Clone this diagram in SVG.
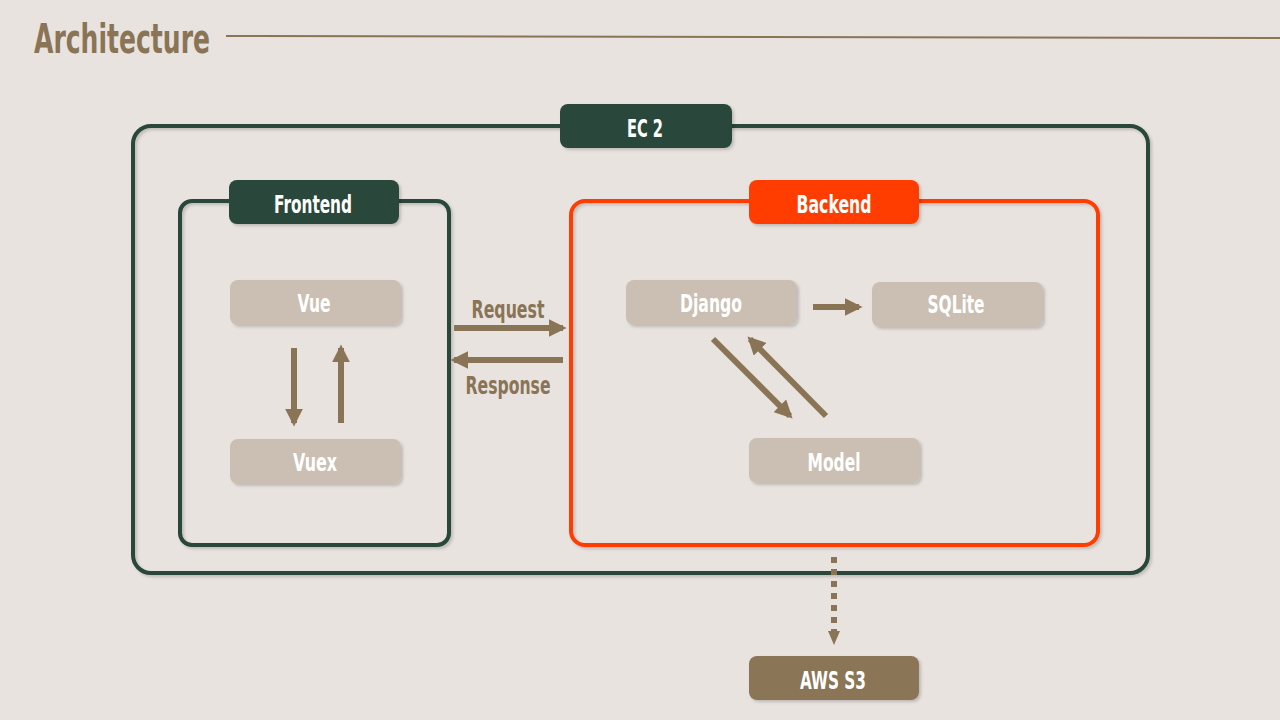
<svg xmlns="http://www.w3.org/2000/svg" width="1280" height="720" viewBox="0 0 1280 720">
<defs>
<filter id="sh" x="-10%" y="-10%" width="130%" height="140%">
<feDropShadow dx="2" dy="2" stdDeviation="1.5" flood-color="#000" flood-opacity="0.18"/>
</filter>
<marker id="ah" viewBox="0 0 10 10" refX="8" refY="5" markerWidth="3" markerHeight="3" orient="auto" markerUnits="strokeWidth">
<path d="M0,0 L10,5 L0,10 z" fill="#8a7456"/>
</marker>
<marker id="ah2" viewBox="0 0 10 10" refX="8" refY="5" markerWidth="2.2" markerHeight="2.2" orient="auto" markerUnits="strokeWidth">
<path d="M0,0 L10,5 L0,10 z" fill="#8a7456"/>
</marker>
</defs>
<style>
.t{font-family:"Liberation Sans Narrow","DejaVu Sans Condensed","Liberation Sans",sans-serif;font-weight:bold;text-anchor:middle}
.w{fill:#ffffff;font-size:24px}
.br{fill:#8a7456}
.node{fill:#cbbfb3;filter:url(#sh)}
.lab{filter:url(#sh)}
.arr{stroke:#8a7456;stroke-width:6;fill:none;marker-end:url(#ah)}
</style>
<rect width="1280" height="720" fill="#e8e3df"/>
<g id="title">
<text class="t br" x="122" y="53" font-size="40" textLength="176" lengthAdjust="spacingAndGlyphs">Architecture</text>
<line x1="226" y1="36" x2="1280" y2="38" stroke="#8a7456" stroke-width="2"/>
</g>
<g id="ec2">
<rect x="133" y="126" width="1015" height="447" rx="18" fill="none" stroke="#2a463b" stroke-width="4" filter="url(#sh)"/>
<rect class="lab" x="560" y="104" width="172" height="44" rx="8" fill="#2a463b"/>
<text class="t w" x="645" y="137" textLength="36" lengthAdjust="spacingAndGlyphs">EC 2</text>
</g>
<g id="frontend">
<rect x="180" y="201" width="269" height="344" rx="12" fill="none" stroke="#2a463b" stroke-width="4" filter="url(#sh)"/>
<rect class="lab" x="229" y="180" width="170" height="44" rx="8" fill="#2a463b"/>
<text class="t w" x="313" y="213" textLength="78" lengthAdjust="spacingAndGlyphs">Frontend</text>
</g>
<g id="backend">
<rect x="571" y="201" width="527" height="344" rx="14" fill="none" stroke="#ff3d00" stroke-width="4" filter="url(#sh)"/>
<rect class="lab" x="749" y="180" width="170" height="44" rx="8" fill="#ff3d00"/>
<text class="t w" x="834" y="213" textLength="75" lengthAdjust="spacingAndGlyphs">Backend</text>
</g>
<g id="vue">
<rect class="node" x="230" y="280" width="171" height="45" rx="8"/>
<text class="t w" x="314" y="312" textLength="33" lengthAdjust="spacingAndGlyphs">Vue</text>
</g>
<g id="vuex">
<rect class="node" x="230" y="439" width="171" height="45" rx="8"/>
<text class="t w" x="315" y="471" textLength="44" lengthAdjust="spacingAndGlyphs">Vuex</text>
</g>
<g id="django">
<rect class="node" x="626" y="280" width="171" height="45" rx="8"/>
<text class="t w" x="711" y="312" textLength="62" lengthAdjust="spacingAndGlyphs">Django</text>
</g>
<g id="sqlite">
<rect class="node" x="872" y="282" width="171" height="45" rx="8"/>
<text class="t w" x="956" y="313" textLength="57" lengthAdjust="spacingAndGlyphs">SQLite</text>
</g>
<g id="model">
<rect class="node" x="749" y="438" width="171" height="45" rx="8"/>
<text class="t w" x="834" y="471" textLength="53" lengthAdjust="spacingAndGlyphs">Model</text>
</g>
<g id="aws">
<rect class="lab" x="749" y="656" width="170" height="44" rx="8" fill="#8a7456"/>
<text class="t w" x="833" y="689" textLength="66" lengthAdjust="spacingAndGlyphs">AWS S3</text>
</g>
<g id="connectors">
<line class="arr" x1="294" y1="348" x2="294" y2="423"/>
<line class="arr" x1="341" y1="423" x2="341" y2="348"/>
<line class="arr" x1="454" y1="328" x2="563" y2="328"/>
<line class="arr" x1="563" y1="360" x2="454" y2="360"/>
<line class="arr" x1="813" y1="307" x2="859" y2="307" stroke-width="5"/>
<line class="arr" x1="713" y1="339" x2="790" y2="416" stroke-width="5"/>
<line class="arr" x1="826" y1="416" x2="750" y2="339" stroke-width="5"/>
<line x1="834" y1="557" x2="834" y2="632" stroke="#8a7456" stroke-width="6" stroke-dasharray="6,6"/>
<path d="M828,631 L840,631 L834,645 z" fill="#8a7456"/>
<text class="t br" x="508" y="318" font-size="24" textLength="73" lengthAdjust="spacingAndGlyphs">Request</text>
<text class="t br" x="508" y="394" font-size="24" textLength="85" lengthAdjust="spacingAndGlyphs">Response</text>
</g>
</svg>
